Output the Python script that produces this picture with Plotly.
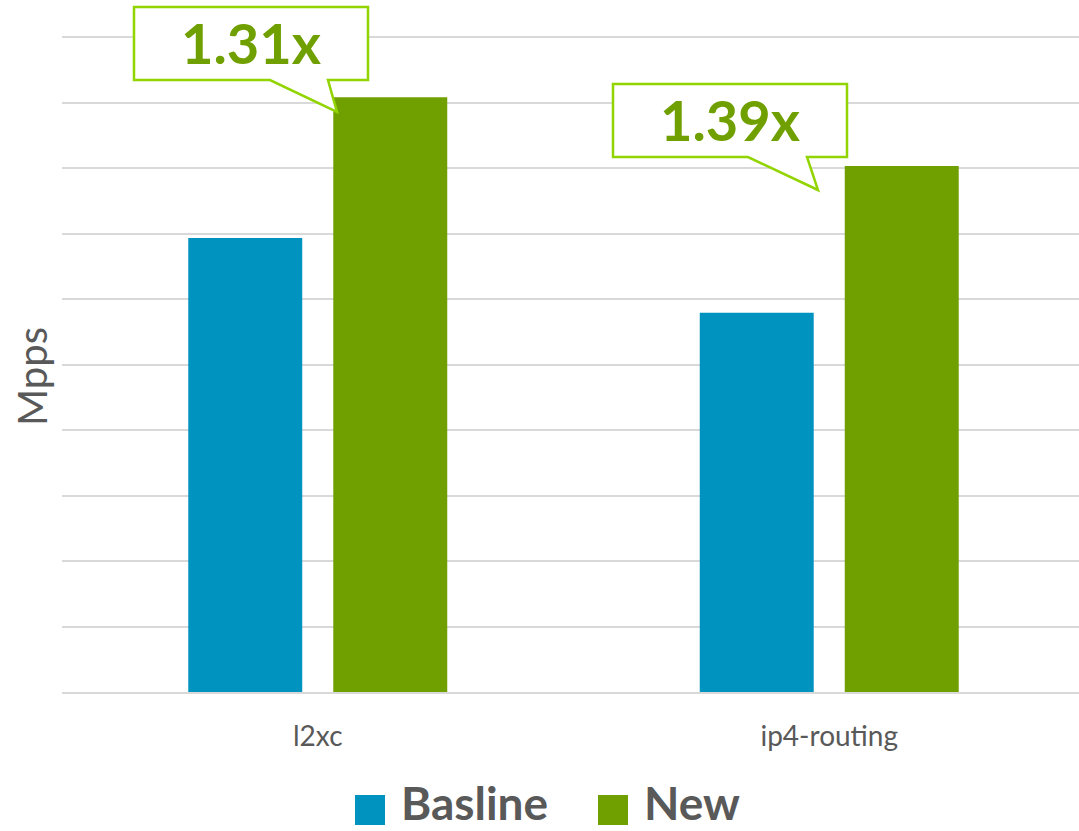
import plotly.graph_objects as go

categories = ["l2xc", "ip4-routing"]
baseline_values = [6.93, 5.79]
new_values = [9.08, 8.03]
series_names = ["Basline", "New"]
speedup_labels = ["1.31x", "1.39x"]

BLUE = "#0093C0"
GREEN = "#70A000"
LIME = "#92D400"
GRAY_TXT = "#595959"
FONT = "Lato"

W, H = 1079, 831
L, R, T, B = 62, 0, 30, 139
PW, PH = W - L - R, H - T - B
YMAX = 10.0 * PH / 655.0  # so that 10 sits at pixel row 37


def px(x):
    return (x - L) / PW


def py(y):
    return (H - B - y) / PH


fig = go.Figure()
fig.add_trace(go.Bar(x=categories, y=baseline_values, name=series_names[0],
                     marker=dict(color=BLUE, line=dict(width=0))))
fig.add_trace(go.Bar(x=categories, y=new_values, name=series_names[1],
                     marker=dict(color=GREEN, line=dict(width=0))))

shapes = []
annotations = []

# callouts (box with tail), pixel geometry -> paper coords
callouts = [
    dict(box=(134, 7, 368, 80), tail=(270, 328, 337, 112), text=speedup_labels[0]),
    dict(box=(613, 84, 847, 157), tail=(748, 807, 818, 190), text=speedup_labels[1]),
]
for c in callouts:
    x0, y0, x1, y1 = c["box"]
    ta, tb, tx, ty = c["tail"]
    pts = [(x0, y0), (x1, y0), (x1, y1), (tb, y1), (tx, ty), (ta, y1), (x0, y1)]
    path = "M " + " L ".join(f"{px(a):.5f},{py(b):.5f}" for a, b in pts) + " Z"
    shapes.append(dict(type="path", xref="paper", yref="paper", path=path,
                       fillcolor="white", line=dict(color=LIME, width=2.5), layer="above"))
    annotations.append(dict(xref="paper", yref="paper", x=px((x0 + x1) / 2), y=py((y0 + y1) / 2 - 1),
                            text=f"<b>{c['text']}</b>", showarrow=False,
                            font=dict(family=FONT, size=56, color=GREEN),
                            xanchor="center", yanchor="middle"))

# y-axis title
annotations.append(dict(xref="paper", yref="paper", x=px(32), y=py(377), text="Mpps",
                        textangle=-90, showarrow=False,
                        font=dict(family=FONT, size=40, color=GRAY_TXT),
                        xanchor="center", yanchor="middle"))

# legend (custom, large)
legend_items = [(355, BLUE, series_names[0], 399), (598, GREEN, series_names[1], 642)]
for sx, col, name, tx in legend_items:
    shapes.append(dict(type="rect", xref="paper", yref="paper",
                       x0=px(sx), x1=px(sx + 30), y0=py(825), y1=py(795),
                       fillcolor=col, line=dict(width=0)))
    annotations.append(dict(xref="paper", yref="paper", x=px(tx), y=py(803),
                            text=f"<b>{name}</b>", showarrow=False,
                            font=dict(family=FONT, size=46, color=GRAY_TXT),
                            xanchor="left", yanchor="middle"))

fig.update_layout(
    width=W, height=H,
    margin=dict(l=L, r=R, t=T, b=B, pad=0),
    plot_bgcolor="white", paper_bgcolor="white",
    barmode="group", bargap=0.433, bargroupgap=0.214,
    showlegend=False,
    shapes=shapes, annotations=annotations,
    font=dict(family=FONT, color=GRAY_TXT),
)
fig.update_xaxes(range=[-0.5, -0.5 + PW / 511.5],
                 showgrid=False, showline=True, linecolor="#D9D9D9", linewidth=2,
                 ticks="outside", ticklen=18, tickcolor="rgba(0,0,0,0)",
                 tickfont=dict(family=FONT, size=28, color=GRAY_TXT))
fig.update_yaxes(range=[0, YMAX], tick0=0, dtick=1, showgrid=True, gridcolor="#D9D9D9", gridwidth=2,
                 showticklabels=False, zeroline=False, showline=False)

fig.write_html("out.html")
